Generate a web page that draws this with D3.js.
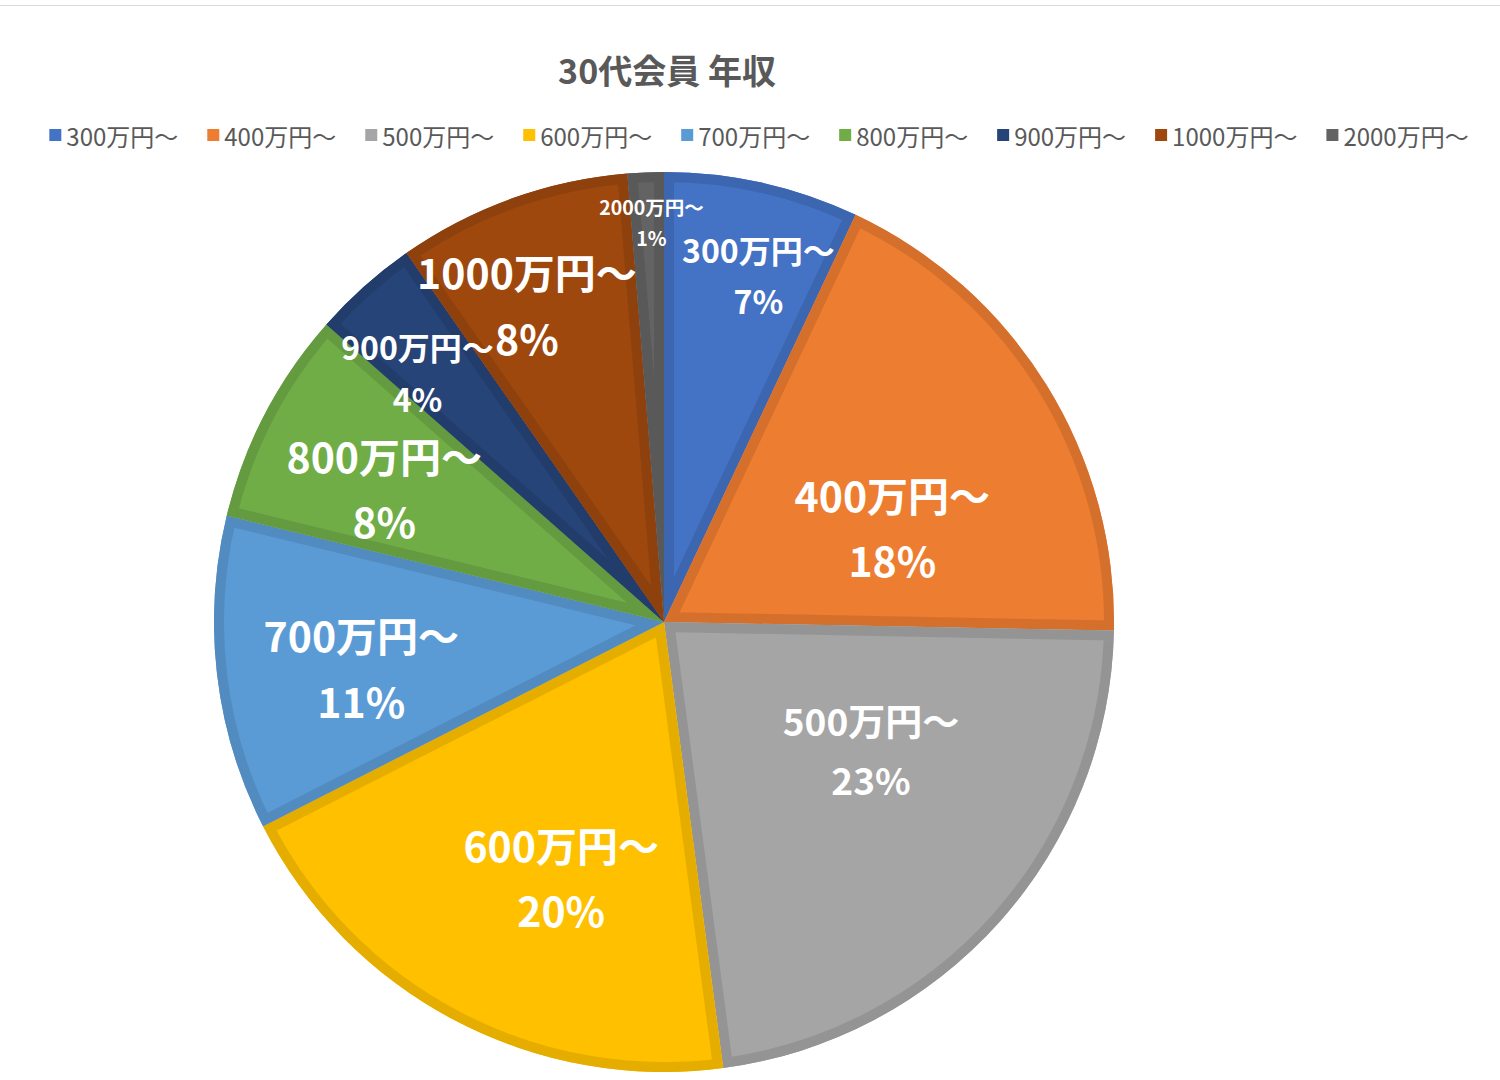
<!DOCTYPE html>
<html>
<head>
<meta charset="utf-8">
<script src="https://cdn.jsdelivr.net/npm/d3@7"></script>
<style>
  body { margin: 0; background: #fff; }
  svg { display: block; }
</style>
</head>
<body>
<div id="chart"></div>
<script>
var categories = ["300万円〜", "400万円〜", "500万円〜", "600万円〜", "700万円〜", "800万円〜", "900万円〜", "1000万円〜", "2000万円〜"];
var shares = [7.0, 18.3, 22.6, 19.6, 11.3, 7.7, 3.8, 8.4, 1.3];

var colors = ["#4472C4", "#ED7D31", "#A5A5A5", "#FFC000", "#5B9BD5", "#70AD47", "#264478", "#9E480E", "#636363"];

// label placement (angle in degrees clockwise from top, radius as fraction, font size)
var labelAngle = [15.2, 67.3, 121.6, 202, 261.6, 295.7, 315.4, 336.7, 358.2];
var labelRadius = [0.80, 0.55, 0.54, 0.61, 0.68, 0.69, 0.78, 0.77, 0.89];
var labelSize = [32, 41, 37, 41, 41, 41, 32, 41, 19.5];

var W = 1500, H = 1080;
var cx = 664, cy = 622, R = 450;
var font = "'Noto Sans CJK JP', 'Noto Sans', sans-serif";

var svg = d3.select("#chart").append("svg")
  .attr("width", W).attr("height", H);

svg.append("line")
  .attr("x1", 0).attr("x2", W).attr("y1", 5.5).attr("y2", 5.5)
  .attr("stroke", "#d9d9d9").attr("stroke-width", 1);

// title
svg.append("text")
  .attr("x", cx + 3).attr("y", 69)
  .attr("text-anchor", "middle")
  .attr("dominant-baseline", "central")
  .style("font-family", font).style("font-weight", "bold")
  .style("font-size", "34px").style("fill", "#595959")
  .text("30代会員 年収");

// legend
var legend = svg.append("g");
var lx = 0;
categories.forEach(function (c, i) {
  var g = legend.append("g").attr("transform", "translate(" + lx + ",0)");
  g.append("rect").attr("x", 0).attr("y", -6).attr("width", 12).attr("height", 12)
    .attr("fill", colors[i]);
  var t = g.append("text").attr("x", 17).attr("y", 0)
    .attr("dominant-baseline", "central")
    .style("font-family", font).style("font-size", "24px").style("fill", "#595959")
    .text(c);
  lx += 17 + t.node().getComputedTextLength() + 29;
});
var legendW = lx - 29;
legend.attr("transform", "translate(" + (759 - legendW / 2) + ",135)");

// pie
var pie = d3.pie().sort(null).value(function (d) { return d; });
var arc = d3.arc().innerRadius(0).outerRadius(R);
var arcs = pie(shares);
var total = d3.sum(shares);

var g = svg.append("g").attr("transform", "translate(" + cx + "," + cy + ")");
var defs = svg.append("defs");

arcs.forEach(function (d, i) {
  defs.append("clipPath").attr("id", "clip" + i)
    .append("path").attr("d", arc(d));
  g.append("path")
    .attr("d", arc(d))
    .attr("fill", colors[i]);
  g.append("path")
    .attr("d", arc(d))
    .attr("fill", "none")
    .attr("stroke", d3.color(colors[i]).darker(0.3))
    .attr("stroke-width", 20)
    .attr("stroke-linejoin", "miter")
    .attr("clip-path", "url(#clip" + i + ")");
});

// data labels
arcs.forEach(function (d, i) {
  var a = labelAngle[i] * Math.PI / 180;
  var r = labelRadius[i] * R;
  var x = r * Math.sin(a), y = -r * Math.cos(a);
  var fs = labelSize[i];
  var t = g.append("text")
    .attr("text-anchor", "middle")
    .style("font-family", font).style("font-weight", "bold")
    .style("font-size", fs + "px").style("fill", "#ffffff");
  t.append("tspan").attr("x", x).attr("y", y - fs * 0.8)
    .attr("dominant-baseline", "central").text(categories[i]);
  t.append("tspan").attr("x", x).attr("y", y + fs * 0.8)
    .attr("dominant-baseline", "central").text(d3.format(".0%")(d.data / total));
});
</script>
</body>
</html>
